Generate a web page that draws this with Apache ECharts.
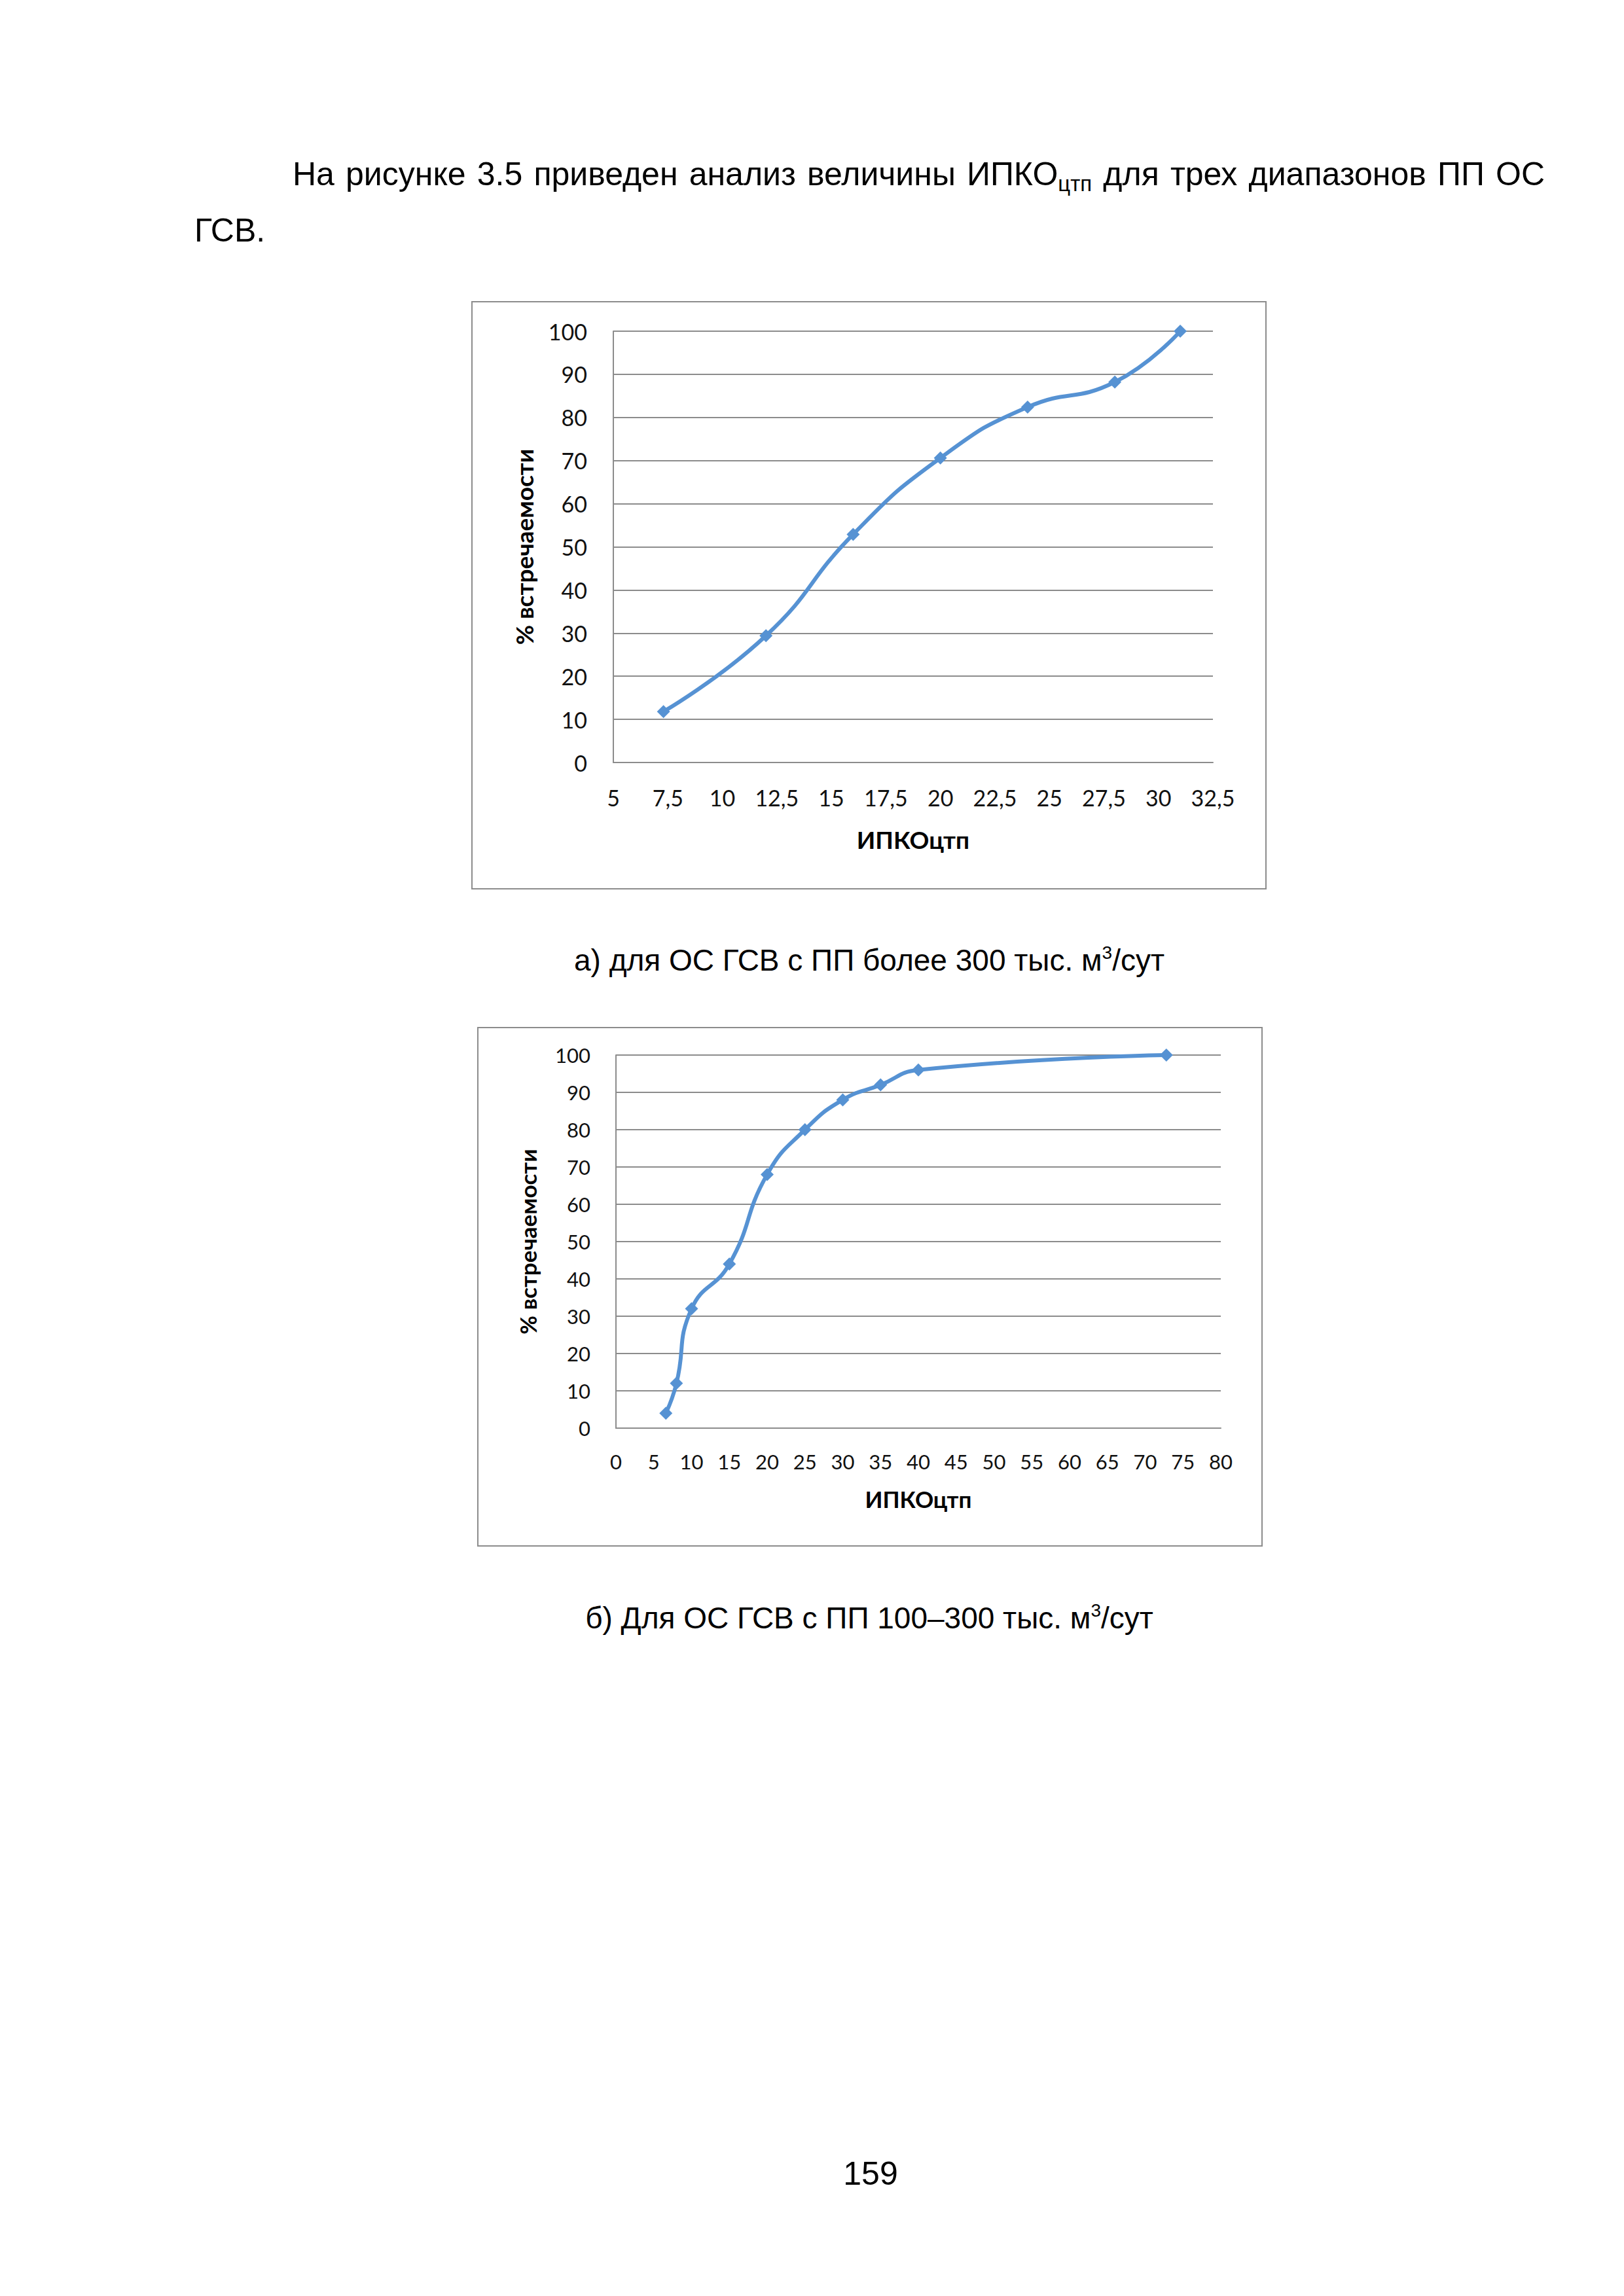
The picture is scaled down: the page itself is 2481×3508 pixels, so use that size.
<!DOCTYPE html>
<html>
<head>
<meta charset="utf-8">
<script src="https://cdn.jsdelivr.net/npm/echarts@6/dist/echarts.min.js"></script>
<style>
  html, body { margin:0; padding:0; background:#fff; }
  body { width:2481px; height:3508px; position:relative; overflow:hidden; font-family:"Liberation Sans", Arial, sans-serif; color:#000; }
  .txt { position:absolute; font-size:50px; line-height:86px; white-space:nowrap; }
  .cap { position:absolute; font-size:46px; line-height:46px; white-space:nowrap; text-align:center; }
  sub { font-size:33px; vertical-align:-9px; line-height:0; }
  sup { font-size:28px; vertical-align:18px; line-height:0; }
  .box { position:absolute; border:2px solid #8c8c8c; box-sizing:border-box; background:#fff; }
  .chart { position:absolute; left:0; top:0; }
</style>
</head>
<body>
<div class="txt" style="left:447px; top:223px; width:1913px; text-align:justify; text-align-last:justify;">На рисунке 3.5 приведен анализ величины ИПКО<sub>цтп</sub> для трех диапазонов ПП ОС</div>
<div class="txt" style="left:297px; top:309px;">ГСВ.</div>

<div class="box" id="box1" style="left:720px; top:460px; width:1215px; height:899px;"><div class="chart" id="c1" style="width:1211px; height:895px;"></div></div>
<div class="cap" style="left:828px; top:1444px; width:1000px;">а) для ОС ГСВ с ПП более 300 тыс. м<sup>3</sup>/сут</div>

<div class="box" id="box2" style="left:729px; top:1569px; width:1200px; height:794px;"><div class="chart" id="c2" style="width:1196px; height:790px;"></div></div>
<div class="cap" style="left:828px; top:2449px; width:1000px;">б) Для ОС ГСВ с ПП 100–300 тыс. м<sup>3</sup>/сут</div>

<div class="txt" style="left:1180px; top:3278px; width:300px; text-align:center; line-height:86px;">159</div>

<script>
// ---- data ----
const chart1X = [7.3, 12, 16, 20, 24, 28, 31];
const chart1Y = [11.8, 29.4, 52.9, 70.6, 82.4, 88.2, 100];
const chart2X = [6.6, 8, 10, 15, 20, 25, 30, 35, 40, 72.8];
const chart2Y = [4, 12, 32, 44, 68, 80, 88, 92, 96, 100];
const yTitle = '% встречаемости';
const xTitle = 'ИПКОцтп';
const x1Range = [5, 32.5, 2.5];
const x2Range = [0, 80, 5];
const yRange = [0, 100, 10];

const lineColor = '#5692D3';
const gridColor = '#8c8c8c';

function pairs(xs, ys) { return xs.map((x, i) => [x, ys[i]]); }

function makeOption(xs, ys, xr, g, fs, nameFs, gaps) {
  return {
    animation: false,
    backgroundColor: '#fff',
    grid: { left: g.left, top: g.top, width: g.width, height: g.height, containLabel: false },
    xAxis: {
      type: 'value', min: xr[0], max: xr[1], interval: xr[2],
      name: xTitle, nameLocation: 'middle', nameGap: gaps.xName,
      nameTextStyle: { fontFamily: 'Lato', fontWeight: 'bold', fontSize: nameFs, color: '#000' },
      axisLine: { show: true, lineStyle: { color: gridColor, width: 2 } },
      axisTick: { show: false },
      splitLine: { show: false },
      axisLabel: { margin: gaps.xLab, fontFamily: 'Lato', fontSize: fs, color: '#111',
        formatter: v => String(v).replace('.', ',') }
    },
    yAxis: {
      type: 'value', min: yRange[0], max: yRange[1], interval: yRange[2],
      name: yTitle, nameLocation: 'middle', nameGap: gaps.yName,
      nameTextStyle: { fontFamily: 'Lato', fontWeight: 'bold', fontSize: nameFs, color: '#000' },
      axisLine: { show: true, lineStyle: { color: gridColor, width: 2 } },
      axisTick: { show: false },
      splitLine: { show: true, lineStyle: { color: gridColor, width: 2 } },
      axisLabel: { margin: gaps.yLab, fontFamily: 'Lato', fontSize: fs, color: '#111' }
    },
    series: [{
      type: 'line', data: pairs(xs, ys), smooth: 0.5,
      symbol: 'diamond', symbolSize: 20,
      lineStyle: { color: lineColor, width: 6 },
      itemStyle: { color: lineColor }
    }]
  };
}

const c1 = echarts.init(document.getElementById('c1'), null, { renderer: 'svg' });
c1.setOption(makeOption(chart1X, chart1Y, x1Range,
  { left: 215, top: 44, width: 916, height: 659 }, 34, 37,
  { xName: 99, xLab: 36, yName: 118, yLab: 40 }));

const c2 = echarts.init(document.getElementById('c2'), null, { renderer: 'svg' });
c2.setOption(makeOption(chart2X, chart2Y, x2Range,
  { left: 210, top: 41, width: 924, height: 570 }, 31, 35,
  { xName: 90, xLab: 35, yName: 118, yLab: 39 }));
</script>
</body>
</html>
